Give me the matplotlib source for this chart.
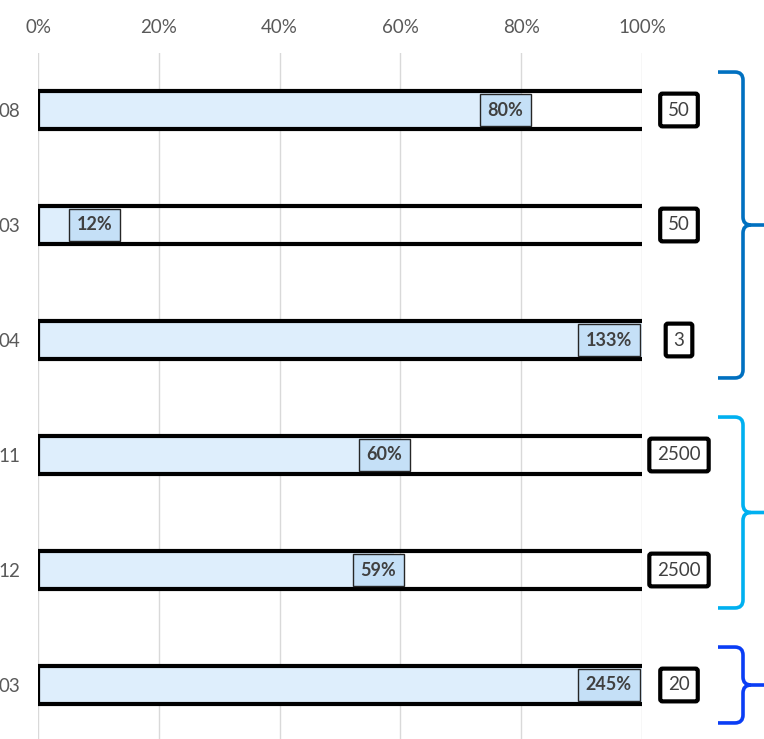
import matplotlib
matplotlib.use("Agg")
import matplotlib.pyplot as plt
from matplotlib.path import Path
from matplotlib.patches import PathPatch
import matplotlib.transforms as mtrans

categories = ['08', '03', '04', '11', '12', '03']
values = [0.80, 0.12, 1.33, 0.60, 0.59, 2.45]
targets = ['50', '50', '3', '2500', '2500', '20']
group_rows = [(0, 2), (3, 4), (5, 5)]
group_colors = ['#0070C0', '#00B0F0', '#0A3DF5']
xticks = [0, 0.2, 0.4, 0.6, 0.8, 1.0]
xticklabels = ['0%', '20%', '40%', '60%', '80%', '100%']

plt.rcParams['font.family'] = ['Lato', 'DejaVu Sans']

W, H = 764, 739
fig = plt.figure(figsize=(W / 100, H / 100), dpi=100)
ax_left = 38 / W
ax_w = (642 - 38) / W
ax_top = 52.5
ax_bot = 742.5
ax = fig.add_axes([ax_left, (H - ax_bot) / H, ax_w, (ax_bot - ax_top) / H])

n = len(categories)
ys = list(range(n))
ax.set_xlim(0, 1)
ax.set_ylim(n - 0.5, -0.5)

# gridlines
for t in xticks:
    ax.axvline(t, color='#D9D9D9', lw=1.0, zorder=0)

bar_h = 0.325
fills = [min(v, 1.0) for v in values]
ax.barh(ys, fills, height=bar_h, color='#DEEEFC', edgecolor='none', zorder=2)
for y in ys:
    ax.plot([0, 1.002], [y - bar_h / 2, y - bar_h / 2], color='black', lw=3.0,
            solid_capstyle='butt', zorder=3)
    ax.plot([0, 1.002], [y + bar_h / 2, y + bar_h / 2], color='black', lw=3.0,
            solid_capstyle='butt', zorder=3)
    ax.plot([0.002, 0.002], [y - bar_h / 2, y + bar_h / 2], color='black', lw=1.6,
            zorder=3)

# percent labels
for y, v, f in zip(ys, values, fills):
    off = 2 if v < 1 else -10
    ax.annotate(f'{v:.0%}', xy=(f, y), xytext=(off, 0), textcoords='offset pixels',
                ha='right', va='center', fontsize=13, fontweight='bold',
                color='#404040', zorder=5,
                bbox=dict(boxstyle='square,pad=0.42', fc='#C5E0F7', ec='#262626', lw=1.0))

# target boxes
trans = mtrans.blended_transform_factory(ax.transAxes, ax.transData)
for y, t in zip(ys, targets):
    ax.text((679 - 38) / (642 - 38), y, t, transform=trans, ha='center', va='center',
            fontsize=13.5, color='#404040', clip_on=False,
            bbox=dict(boxstyle='round,pad=0.42,rounding_size=0.12', fc='white', ec='black', lw=3.0))

# braces
def px2ax(px):
    return (px - 38) / (642 - 38)

x_arm = px2ax(718)
x_v = px2ax(743)
x_tip = px2ax(790)
rx = px2ax(743) - px2ax(735)
ry = 0.07
for (a, b), col in zip(group_rows, group_colors):
    top = a - 0.33
    bot = b + 0.33
    mid = (a + b) / 2
    verts = [(x_arm, top), (x_v - rx, top), (x_v, top), (x_v, top + ry),
             (x_v, mid - ry), (x_v, mid), (x_v + rx, mid),
             (x_tip, mid)]
    codes = [Path.MOVETO, Path.LINETO, Path.CURVE3, Path.CURVE3,
             Path.LINETO, Path.CURVE3, Path.CURVE3, Path.LINETO]
    verts2 = [(x_v + rx, mid), (x_v, mid), (x_v, mid + ry),
              (x_v, bot - ry), (x_v, bot), (x_v - rx, bot), (x_arm, bot)]
    codes2 = [Path.MOVETO, Path.CURVE3, Path.CURVE3,
              Path.LINETO, Path.CURVE3, Path.CURVE3, Path.LINETO]
    for vv, cc in ((verts, codes), (verts2, codes2)):
        p = PathPatch(Path(vv, cc), transform=trans, fc='none', ec=col, lw=2.6,
                      clip_on=False, capstyle='butt', joinstyle='round')
        ax.add_patch(p)

ax.set_yticks(ys)
ax.set_yticklabels(categories, fontsize=13.5, color='#595959')
ax.set_xticks(xticks)
ax.set_xticklabels(xticklabels, fontsize=13.5, color='#595959')
ax.xaxis.tick_top()
ax.tick_params(axis='both', length=0)
ax.tick_params(axis='x', pad=12)
ax.tick_params(axis='y', pad=13)
for s in ax.spines.values():
    s.set_visible(False)

fig.savefig('out.png', dpi=100)
